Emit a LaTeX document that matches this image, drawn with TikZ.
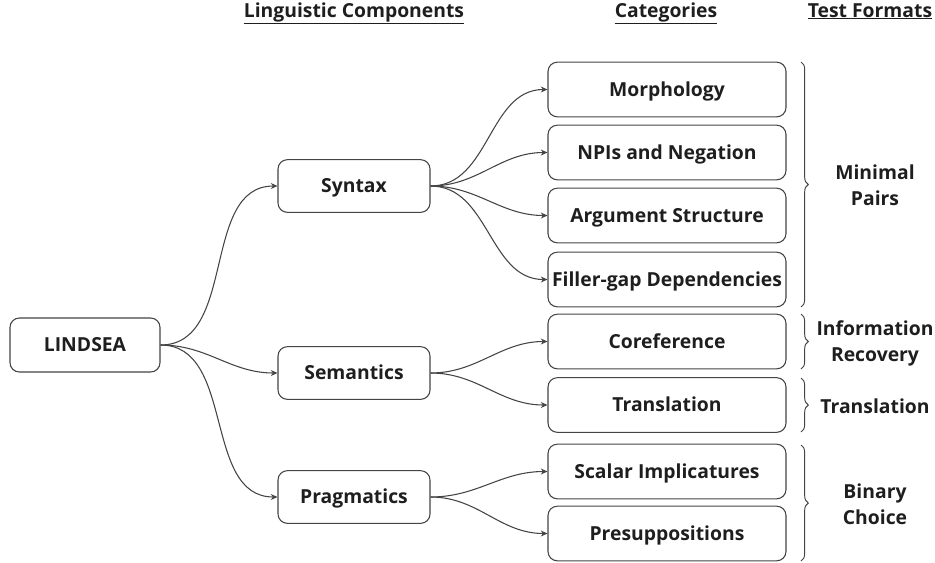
\documentclass[tikz,border=0pt]{standalone}
\usepackage{fontspec}
\setmainfont{Open Sans}
\usetikzlibrary{decorations.pathreplacing,arrows.meta}
\definecolor{linegray}{HTML}{444444}
\definecolor{txt}{HTML}{1E1E1E}
\tikzset{
  lbl/.style={text=txt, font=\bfseries\fontsize{14.5}{19.5}\selectfont, align=center, inner sep=0pt},
  box/.style={lbl, draw=linegray, line width=0.8pt, rounded corners=7pt, text height=10.4pt, text depth=0pt},
  rootbox/.style={box, minimum width=112.5pt, minimum height=40.5pt},
  compbox/.style={box, minimum width=114pt, minimum height=39.5pt},
  catbox/.style={box, minimum width=178.5pt, minimum height=41pt},
  arr/.style={draw=linegray, line width=0.8pt, -{Stealth[length=5pt,width=4.5pt]}},
  bracepath/.style={draw=linegray, line width=0.7pt, decorate, decoration={brace, amplitude=5.5pt}},
  header/.style={lbl},
  uline/.style={draw=txt, line width=0.8pt}
}
\begin{document}
\begin{tikzpicture}[x=0.75pt,y=-0.75pt]
\useasboundingbox (0,0) rectangle (935,562);

% headers
\node[header, anchor=base] (h1) at (354,17) {Linguistic Components};
\node[header, anchor=base] (h2) at (666,17) {Categories};
\node[header, anchor=base] (h3) at (870,17) {Test Formats};
\draw[uline] ([yshift=-1pt]h1.south west) -- ([yshift=-1pt]h1.south east);
\draw[uline] ([yshift=-1pt]h2.south west) -- ([yshift=-1pt]h2.south east);
\draw[uline] ([yshift=-1pt]h3.south west) -- ([yshift=-1pt]h3.south east);

% root
\node[rootbox] (root) at (85,345) {LINDSEA};

% components
\node[compbox] (syn) at (354,186) {Syntax};
\node[compbox] (sem) at (354,373) {Semantics};
\node[compbox] (prag) at (354,497) {Pragmatics};

% categories
\node[catbox] (morph) at (667,89.5) {Morphology};
\node[catbox] (npi) at (667,152.5) {NPIs and Negation};
\node[catbox] (argst) at (667,215.5) {Argument Structure};
\node[catbox] (fill) at (667,279.5) {Filler-gap Dependencies};
\node[catbox] (coref) at (667,341.5) {Coreference};
\node[catbox] (transl) at (667,405) {Translation};
\node[catbox] (scalar) at (667,471.5) {Scalar Implicatures};
\node[catbox] (presup) at (667,533.5) {Presuppositions};

% connectors
\foreach \t in {syn,sem,prag}
  \draw[arr] (root.east) to[out=0,in=180] (\t.west);
\foreach \t in {morph,npi,argst,fill}
  \draw[arr] (syn.east) to[out=0,in=180] (\t.west);
\foreach \t in {coref,transl}
  \draw[arr] (sem.east) to[out=0,in=180] (\t.west);
\foreach \t in {scalar,presup}
  \draw[arr] (prag.east) to[out=0,in=180] (\t.west);

% braces
\coordinate (b1a) at (801,62);  \coordinate (b1b) at (801,307);
\coordinate (b2a) at (801,314); \coordinate (b2b) at (801,369);
\coordinate (b3a) at (801,378); \coordinate (b3b) at (801,432);
\coordinate (b4a) at (801,445); \coordinate (b4b) at (801,561);
\draw[bracepath] (b1a) -- (b1b);
\draw[bracepath] (b2a) -- (b2b);
\draw[bracepath] (b3a) -- (b3b);
\draw[bracepath] (b4a) -- (b4b);

% test formats
\node[lbl] (tf1) at (875,185) {Minimal\\Pairs};
\node[lbl] (tf2) at (875,343) {Information\\Recovery};
\node[lbl] (tf3) at (875,406) {Translation};
\node[lbl] (tf4) at (875,504) {Binary\\Choice};
\end{tikzpicture}
\end{document}
